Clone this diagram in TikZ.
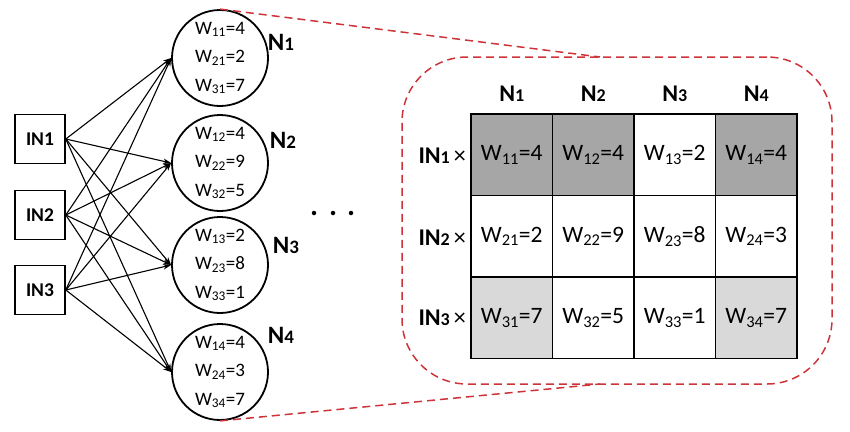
\documentclass[tikz,border=0pt]{standalone}
\usepackage{fontspec}
\setmainfont{Carlito}
\usetikzlibrary{arrows.meta}
\definecolor{zred}{RGB}{204,52,58}
\definecolor{dgray}{RGB}{166,166,166}
\definecolor{lgray}{RGB}{217,217,217}
\newcommand{\fs}[1]{\fontsize{#1}{#1}\selectfont}
\newcommand{\Wt}[2]{W\textsubscript{#1}=#2}
\tikzset{
  inbox/.style={draw, line width=1.6pt, minimum width=50pt, minimum height=49pt, inner sep=0pt, font=\fs{19.5}\bfseries},
  neuron/.style={draw, circle, line width=1.8pt, minimum size=96pt, inner sep=0pt, align=center, font=\fontsize{19}{28.5}\selectfont},
  nlabel/.style={font=\fs{25}\bfseries, inner sep=0pt},
  arr/.style={line width=1.1pt, -{Stealth[length=8pt,width=5.5pt]}},
  zline/.style={draw=zred, line width=1.5pt, dash pattern=on 8pt off 5pt},
  cell/.style={draw, line width=1.6pt, minimum width=81.5pt, minimum height=81.5pt, inner sep=0pt, font=\fs{23.5}},
  chead/.style={font=\fs{24}\bfseries, inner sep=0pt},
  rlab/.style={font=\fs{24}, inner sep=0pt},
  dotn/.style={circle, fill=black, minimum size=4.5pt, inner sep=0pt}
}
\begin{document}
\begin{tikzpicture}[x=1pt,y=-1pt]
\useasboundingbox (0,0) rectangle (850,431);
% input boxes
\node[inbox] (in1) at (40,139) {IN1};
\node[inbox] (in2) at (40,215) {IN2};
\node[inbox] (in3) at (40,290) {IN3};
% neurons
\node[neuron] (n1) at (220,58) {\Wt{11}{4}\\\Wt{21}{2}\\\Wt{31}{7}};
\node[neuron] (n2) at (220,163) {\Wt{12}{4}\\\Wt{22}{9}\\\Wt{32}{5}};
\node[neuron] (n3) at (220,265) {\Wt{13}{2}\\\Wt{23}{8}\\\Wt{33}{1}};
\node[neuron] (n4) at (220,372) {\Wt{14}{4}\\\Wt{24}{3}\\\Wt{34}{7}};
\node[nlabel] (l1) at (281,42) {N{\fs{19}1}};
\node[nlabel] (l2) at (283,140) {N{\fs{19}2}};
\node[nlabel] (l3) at (286,245) {N{\fs{19}3}};
\node[nlabel] (l4) at (281,335) {N{\fs{19}4}};
% connections
\foreach \i in {1,2,3}{
  \foreach \j in {1,2,3,4}{
    \draw[arr] (in\i.east) -- (n\j.west);
  }
}
% dots
\node[dotn] (d1) at (314,213) {};
\node[dotn] (d2) at (333,213) {};
\node[dotn] (d3) at (351,213) {};
% zoom frame
\node[zline, rounded corners=65pt, minimum width=430pt, minimum height=327pt, inner sep=0pt] (zoom) at (617,220.5) {};
\coordinate (zt) at (600,57);
\coordinate (zb) at (600,384);
\draw[zline] (n1.north) -- (zt);
\draw[zline] (n4.south) -- (zb);
% table
\node[cell, fill=dgray] (c11) at (511.75,154.75) {\Wt{11}{4}};
\node[cell, fill=dgray] (c12) at (593.25,154.75) {\Wt{12}{4}};
\node[cell] (c13) at (674.75,154.75) {\Wt{13}{2}};
\node[cell, fill=dgray] (c14) at (756.25,154.75) {\Wt{14}{4}};
\node[cell] (c21) at (511.75,236.25) {\Wt{21}{2}};
\node[cell] (c22) at (593.25,236.25) {\Wt{22}{9}};
\node[cell] (c23) at (674.75,236.25) {\Wt{23}{8}};
\node[cell] (c24) at (756.25,236.25) {\Wt{24}{3}};
\node[cell, fill=lgray] (c31) at (511.75,317.75) {\Wt{31}{7}};
\node[cell] (c32) at (593.25,317.75) {\Wt{32}{5}};
\node[cell] (c33) at (674.75,317.75) {\Wt{33}{1}};
\node[cell, fill=lgray] (c34) at (756.25,317.75) {\Wt{34}{7}};
% headers
\node[chead] (h1) at (511.75,94) {N{\fs{18}1}};
\node[chead] (h2) at (593.25,94) {N{\fs{18}2}};
\node[chead] (h3) at (674.75,94) {N{\fs{18}3}};
\node[chead] (h4) at (756.25,94) {N{\fs{18}4}};
\node[rlab, anchor=east] (r1) at (466,156) {\textbf{IN}{\bfseries\fs{18}1}\,×};
\node[rlab, anchor=east] (r2) at (466,238) {\textbf{IN}{\bfseries\fs{18}2}\,×};
\node[rlab, anchor=east] (r3) at (466,318) {\textbf{IN}{\bfseries\fs{18}3}\,×};
\end{tikzpicture}
\end{document}
